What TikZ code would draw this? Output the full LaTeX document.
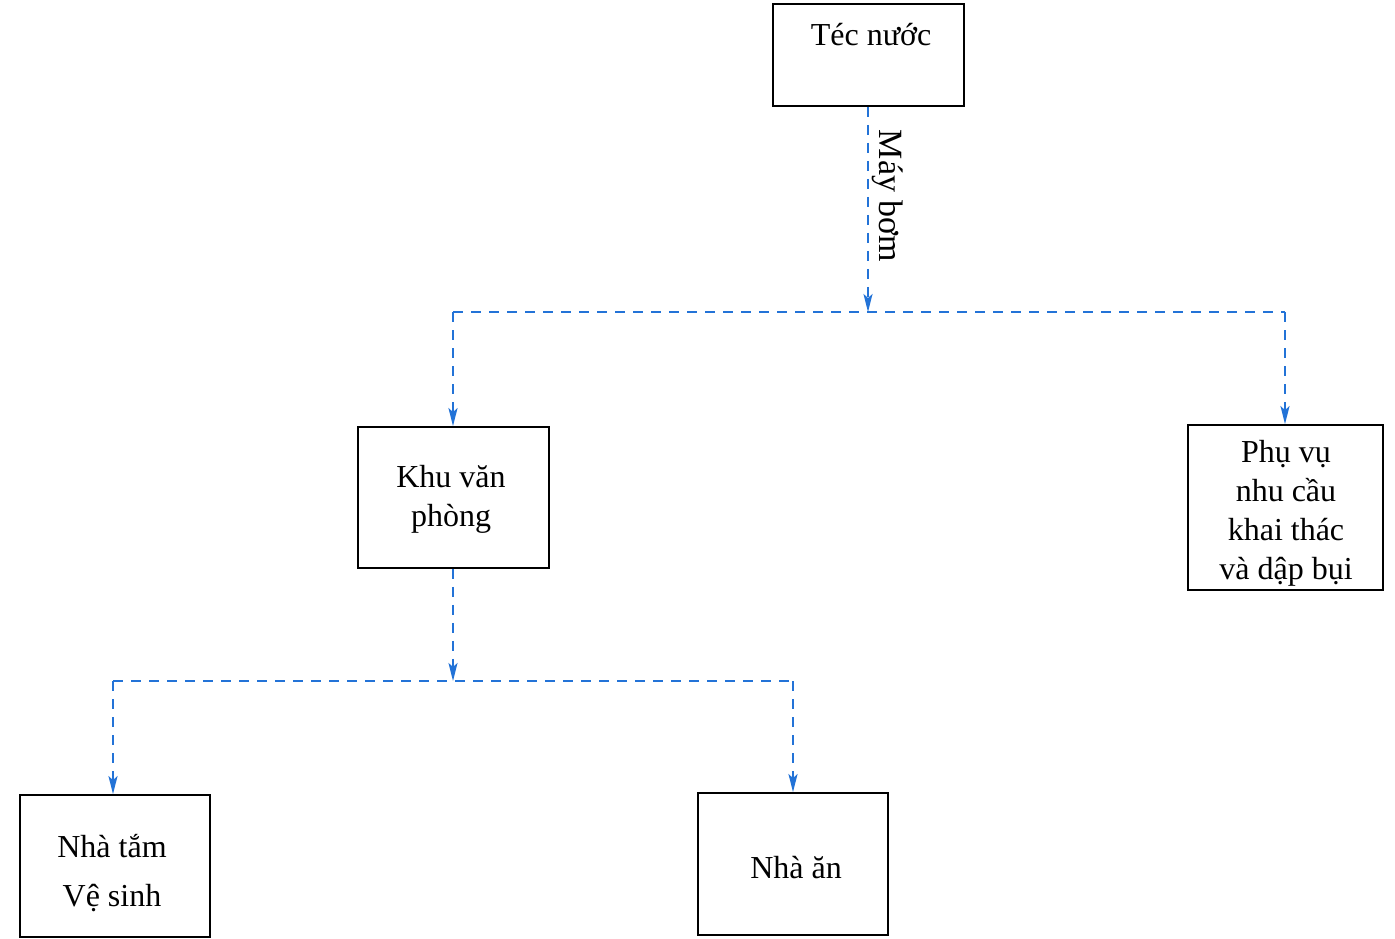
\documentclass[tikz,border=0pt]{standalone}
\usepackage{fontspec}
\setmainfont{Liberation Serif}
\usetikzlibrary{arrows.meta}
\definecolor{linkblue}{RGB}{35,115,215}
\begin{document}
\begin{tikzpicture}[x=1pt,y=-1pt,
  box/.style={draw=black,line width=1.8pt,inner sep=0pt,align=center},
  lbl/.style={font=\fontsize{32}{39}\selectfont,align=center,inner sep=0pt},
  conn/.style={draw=linkblue,line width=2pt,dash pattern=on 10pt off 8pt},
  arr/.style={conn,-{Stealth[length=18pt,width=9pt,inset=4pt]}}]
\useasboundingbox[fill=white] (0,0) rectangle (1395,938);
% boxes
\node[box,minimum width=191pt,minimum height=102pt] (tec) at (868.5,55) {};
\node[lbl] (tect) at (871,35) {Téc nước};
\node[box,minimum width=191pt,minimum height=141pt] (khu) at (453.5,497.5) {};
\node[lbl] (khut) at (451,499) {Khu văn\\phòng};
\node[box,minimum width=195pt,minimum height=165pt] (phu) at (1285.5,507.5) {};
\node[lbl] (phut) at (1286,513) {Phụ vụ\\nhu cầu\\khai thác\\và dập bụi};
\node[box,minimum width=190pt,minimum height=142pt] (nt) at (115,866) {};
\node[lbl,font=\fontsize{32}{49}\selectfont] (ntt) at (112,873) {Nhà tắm\\Vệ sinh};
\node[box,minimum width=190pt,minimum height=142pt] (na) at (793,864) {};
\node[lbl] (nat) at (796,868) {Nhà ăn};
% junction coordinates
\coordinate (j1) at (868,312);
\coordinate (l1) at (453,312);
\coordinate (r1) at (1285,312);
\coordinate (j2) at (453,681);
\coordinate (l2) at (113,681);
\coordinate (r2) at (793,681);
\node[rotate=-90,font=\fontsize{34}{40}\selectfont,inner sep=0pt] (may) at (888,196) {Máy bơm};
% connectors
\draw[arr] (tec.south -| j1) -- (j1);
\draw[conn] (l1) -- (r1);
\draw[arr] (l1) -- (l1 |- khu.north);
\draw[arr] (r1) -- (r1 |- phu.north);
\draw[arr] (khu.south -| j2) -- (j2);
\draw[conn] (l2) -- (r2);
\draw[arr] (l2) -- (l2 |- nt.north);
\draw[arr] (r2) -- (r2 |- na.north);
\end{tikzpicture}
\end{document}
